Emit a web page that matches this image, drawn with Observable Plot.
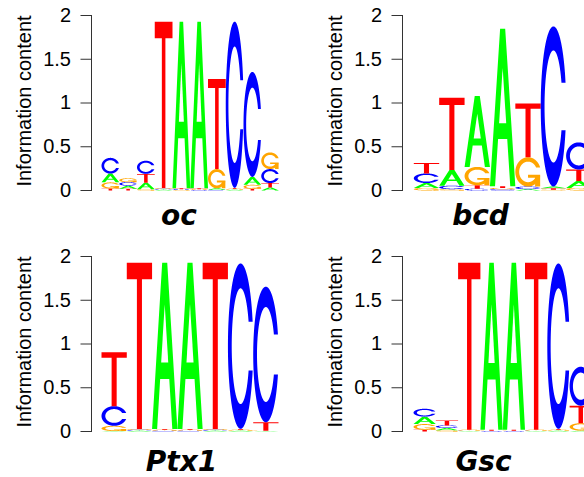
<!DOCTYPE html>
<html>
<head>
<meta charset="utf-8">
<script src="https://cdn.jsdelivr.net/npm/d3@7"></script>
<script src="https://cdn.jsdelivr.net/npm/@observablehq/plot@0.6"></script>
<style>
  html, body { margin: 0; padding: 0; background: #fff; overflow: hidden; }
  #chart { position: relative; width: 584px; height: 477px; overflow: hidden; background: #fff; }
  .panel { position: absolute; }
  .panel svg { display: block; overflow: hidden; }
</style>
</head>
<body>
<div id="chart"></div>
<script>
// Information content (bits) of each nucleotide at each motif position.
const ocA = [0.10, 0.035, 0.075, 0.01, 1.905, 1.905, 0.015, 0.01, 0.09, 0.035];
const ocC = [0.18, 0.04, 0.15, 0.01, 0.01, 0.005, 0.01, 1.90, 1.20, 0.16];
const ocG = [0.07, 0.045, 0.015, 0.01, 0.005, 0.01, 0.22, 0.01, 0.045, 0.19];
const ocT = [0.023, 0.02, 0.10, 1.90, 0.01, 0.01, 1.03, 0.01, 0.02, 0.05];

const bcdA = [0.055, 0.18, 0.81, 1.80, 0.015, 0.02, 0.08];
const bcdC = [0.11, 0.04, 0.02, 0.015, 0.03, 1.83, 0.31];
const bcdG = [0.03, 0.015, 0.21, 0.015, 0.335, 0.01, 0.03];
const bcdT = [0.12, 0.825, 0.04, 0.02, 0.615, 0.015, 0.13];

const ptx1A = [0.005, 0.01, 1.90, 1.90, 0.01, 0.01, 0.005];
const ptx1C = [0.225, 0.01, 0.01, 0.01, 0.01, 1.89, 1.55];
const ptx1G = [0.06, 0.01, 0.01, 0.01, 0.01, 0.01, 0.005];
const ptx1T = [0.615, 1.90, 0.01, 0.01, 1.90, 0.01, 0.095];

const gscA = [0.085, 0.025, 0.005, 1.91, 1.91, 0.005, 0.01, 0.01];
const gscC = [0.09, 0.03, 0.005, 0.005, 0.005, 0.005, 1.89, 0.445];
const gscG = [0.065, 0.015, 0.01, 0.005, 0.005, 0.01, 0.01, 0.085];
const gscT = [0.02, 0.055, 1.91, 0.01, 0.01, 1.91, 0.01, 0.20];

const nucleotides = ["A", "C", "G", "T"];
const yTicks = [0, 0.5, 1, 1.5, 2];
const yLabel = "Information content";

const letterColors = {A: "#00FF00", C: "#0000FF", G: "#FFA500", T: "#FF0000"};

// Letter outlines in a unit box (x and y from 0 to 1), drawn as filled polygons.
function seq(a, b, n) {
  return d3.range(n).map(i => a + (b - a) * i / (n - 1));
}
function cOutline() {
  const a1 = seq(0.3 + Math.PI / 2, Math.PI, 100);
  const a2 = seq(Math.PI, 1.5 * Math.PI, 100);
  const arcs = [...a1, ...a2];
  const outerHalf = arcs.map(a => [0.5 + 0.5 * Math.sin(a), 0.5 + 0.5 * Math.cos(a)]);
  const top = d3.max(a1, a => 0.5 + 0.5 * Math.cos(a));
  const outer = [...outerHalf, ...outerHalf.slice().reverse().map(([x, y]) => [x, 1 - y])];
  const i1 = a1.map(a => [0.5 + 0.35 * Math.sin(a), 0.5 + 0.35 * Math.cos(a)]).filter(p => p[1] <= top);
  i1[0] = [i1[0][0], top];
  const i2 = a2.map(a => [0.5 + 0.35 * Math.sin(a), 0.5 + 0.35 * Math.cos(a)]);
  const innerHalf = [...i1, ...i2];
  const inner = [...innerHalf, ...innerHalf.slice().reverse().map(([x, y]) => [x, 1 - y])];
  return [...outer, ...inner.slice().reverse()];
}
const cPts = cOutline();
const r1 = 0.5 + 0.5 * Math.sin(0.3 + Math.PI / 2);
const glyphs = {
  A: [
    {pts: [[0, 0], [0.4, 1], [0.6, 1], [1, 0], [0.8, 0], [0.68, 0.3], [0.32, 0.3], [0.2, 0], [0, 0]], fill: letterColors.A},
    {pts: [[0.36, 0.4], [0.5, 0.75], [0.64, 0.4], [0.36, 0.4]], fill: "white"}
  ],
  C: [{pts: cPts, fill: letterColors.C}],
  G: [
    {pts: cPts.slice().reverse(), fill: letterColors.G},
    {pts: [[r1, 0.4], [0.5, 0.4], [0.5, 0.3], [r1 - 0.2, 0.3], [r1 - 0.2, 0], [r1, 0], [r1, 0.4]], fill: letterColors.G}
  ],
  T: [{pts: [[0, 1], [1, 1], [1, 0.9], [0.6, 0.9], [0.6, 0], [0.4, 0], [0.4, 0.9], [0, 0.9]], fill: letterColors.T}]
};

// Stack the letters of each position, smallest at the bottom.
function logoRows(heights) {
  const rows = [];
  let id = 0;
  const n = heights.A.length;
  for (let j = 1; j <= n; ++j) {
    const stack = nucleotides.map(L => ({L, h: heights[L][j - 1]}));
    stack.sort((a, b) => a.h - b.h);
    let y0 = 0;
    for (const {L, h} of stack) {
      if (h > 0) {
        for (const poly of glyphs[L]) {
          ++id;
          for (const [ux, uy] of poly.pts) {
            rows.push({id, x: j - 0.5 + ux, y: y0 + h * uy, fill: poly.fill});
          }
        }
      }
      y0 += h;
    }
  }
  return {rows, n};
}

const panels = [
  {title: "oc",   heights: {A: ocA, C: ocC, G: ocG, T: ocT},         left: 0,   top: 0,   height: 240, axisAt: 91,  xRange: [101, 278.5], titleDx: -13,   titleDy: 34.3},
  {title: "bcd",  heights: {A: bcdA, C: bcdC, G: bcdG, T: bcdT},     left: 292, top: 0,   height: 240, axisAt: 110, xRange: [121.3, 299], titleDx: -13,   titleDy: 34.3},
  {title: "Ptx1", heights: {A: ptx1A, C: ptx1C, G: ptx1G, T: ptx1T}, left: 0,   top: 241, height: 236, axisAt: 91,  xRange: [101, 278],   titleDx: -10.5, titleDy: 39},
  {title: "Gsc",  heights: {A: gscA, C: gscC, G: gscG, T: gscT},     left: 292, top: 241, height: 236, axisAt: 110, xRange: [121, 299.4], titleDx: -10,   titleDy: 39}
];

const chart = document.getElementById("chart");
for (const p of panels) {
  const {rows, n} = logoRows(p.heights);
  const plot = Plot.plot({
    width: 292,
    height: p.height,
    marginLeft: p.axisAt,
    marginRight: 0,
    marginTop: 15,
    marginBottom: p.height - 190,
    x: {domain: [0.5, n + 0.5], range: p.xRange, axis: null},
    y: {domain: [0, 2], axis: null},
    color: {type: "identity"},
    style: {fontFamily: "'Liberation Sans', Arial, Helvetica, sans-serif", fontSize: "20px", color: "#000", background: "#fff", overflow: "hidden"},
    marks: [
      Plot.line(rows, {x: "x", y: "y", z: "id", fill: "fill", stroke: "none", curve: "linear"}),
      Plot.axisY(yTicks, {tickSize: 10.5, tickPadding: 10, tickFormat: d => String(d), label: null, fontSize: 20, stroke: "#333", fill: "#000"}),
      Plot.frame({anchor: "left", stroke: "#333"}),
      Plot.text([yLabel], {text: d => d, frameAnchor: "left", textAnchor: "middle", rotate: -90, lineAnchor: "bottom", dx: -61, dy: -2, fontSize: 20, fill: "#000"}),
      Plot.text([p.title], {text: d => d, frameAnchor: "bottom", textAnchor: "middle", lineAnchor: "bottom", dx: p.titleDx, dy: p.titleDy, fontSize: 28, fontWeight: "bold", fontStyle: "italic", fontFamily: "'DejaVu Sans', sans-serif", fill: "#000"})
    ]
  });
  const holder = document.createElement("div");
  holder.className = "panel";
  holder.style.left = p.left + "px";
  holder.style.top = p.top + "px";
  holder.style.width = "292px";
  holder.style.height = p.height + "px";
  holder.style.overflow = "hidden";
  holder.appendChild(plot);
  chart.appendChild(holder);
}
</script>
</body>
</html>
